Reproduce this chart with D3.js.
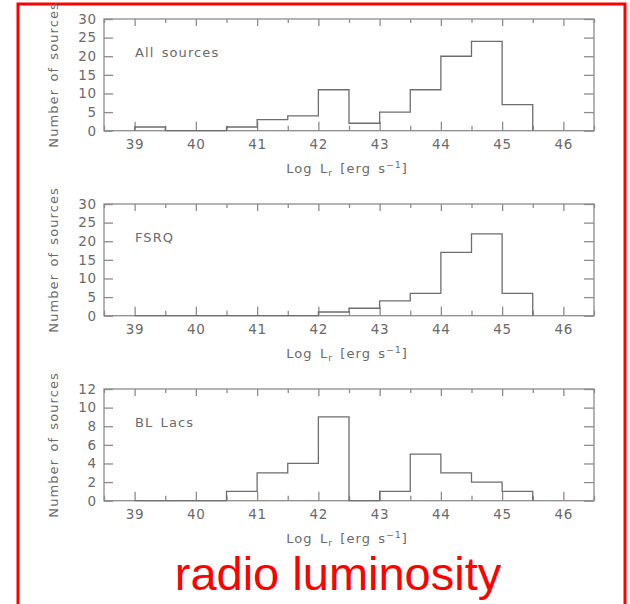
<!DOCTYPE html>
<meta charset="utf-8">
<style>
body { margin: 0; background: #fff; }
.frame { fill: none; stroke: #8c8c8c; stroke-width: 1.3px; }
.hist { fill: none; stroke: #6e6e6e; stroke-width: 1.3px; }
.tick line { stroke: #8c8c8c; stroke-width: 1.3px; }
.tick text { fill: #6a6a6a; font-family: "DejaVu Sans", sans-serif; font-size: 13.5px; letter-spacing: 0.8px; }
.lbl { fill: #6a6a6a; font-family: "DejaVu Sans", sans-serif; font-size: 13px; letter-spacing: 1.1px; word-spacing: 2px; }
</style>
<body>
<script src="https://d3js.org/d3.v7.min.js"></script>
<script>

// bin left edges (width 0.5) and counts per panel
var binStarts = [39, 39.5, 40, 40.5, 41, 41.5, 42, 42.5, 43, 43.5, 44, 44.5, 45];
var binWidth = 0.5;
var allSources = [1, 0, 0, 1, 3, 4, 11, 2, 5, 11, 20, 24, 7];
var fsrq       = [0, 0, 0, 0, 0, 0, 1, 2, 4, 6, 17, 22, 6];
var blLacs     = [0, 0, 0, 1, 3, 4, 9, 0, 1, 5, 3, 2, 1];

var panelNames = ["All sources", "FSRQ", "BL Lacs"];
var panelCounts = [allSources, fsrq, blLacs];
var yMax = [30, 30, 12];
var yStep = [5, 5, 2];
var xTicks = [39, 40, 41, 42, 43, 44, 45, 46];
var xMinorTicks = [38.5, 39.5, 40.5, 41.5, 42.5, 43.5, 44.5, 45.5, 46.5];

var W = 630, H = 604;
var plotLeft = 104, plotRight = 594;
var panelTop = [19, 204, 389];
var panelH = 111.7;

var svg = d3.select("body").append("svg")
    .attr("width", W)
    .attr("height", H);

// red outline box
svg.append("path")
    .attr("d", "M18," + (H + 5) + "V4H625V" + (H + 5))
    .attr("fill", "none")
    .attr("stroke", "#ff0000")
    .attr("stroke-width", 3);

var x = d3.scaleLinear().domain([38.5, 46.5]).range([plotLeft, plotRight]);

panelNames.forEach(function(name, i) {
  var top = panelTop[i];
  var y = d3.scaleLinear().domain([0, yMax[i]]).range([top + panelH, top]);
  var yTicks = d3.range(0, yMax[i] + 0.001, yStep[i]);
  var g = svg.append("g");

  // bottom axis: major + minor ticks inside the frame
  g.append("g")
      .attr("transform", "translate(0," + y(0) + ")")
      .call(d3.axisBottom(x).tickValues(xTicks).tickSizeInner(-9).tickSizeOuter(0).tickPadding(9))
      .call(function(a) { a.select(".domain").remove(); });
  g.append("g")
      .attr("transform", "translate(0," + y(0) + ")")
      .call(d3.axisBottom(x).tickValues(xMinorTicks).tickSizeInner(-5).tickSizeOuter(0).tickFormat(""))
      .call(function(a) { a.select(".domain").remove(); });

  // top axis
  g.append("g")
      .attr("transform", "translate(0," + top + ")")
      .call(d3.axisTop(x).tickValues(xTicks).tickSizeInner(-7).tickSizeOuter(0).tickFormat(""))
      .call(function(a) { a.select(".domain").remove(); });
  g.append("g")
      .attr("transform", "translate(0," + top + ")")
      .call(d3.axisTop(x).tickValues(xMinorTicks).tickSizeInner(-4).tickSizeOuter(0).tickFormat(""))
      .call(function(a) { a.select(".domain").remove(); });

  // left and right axes
  g.append("g")
      .attr("transform", "translate(" + plotLeft + ",0)")
      .call(d3.axisLeft(y).tickValues(yTicks).tickSizeInner(-9).tickSizeOuter(0).tickPadding(7))
      .call(function(a) { a.select(".domain").remove(); });
  g.append("g")
      .attr("transform", "translate(" + plotRight + ",0)")
      .call(d3.axisRight(y).tickValues(yTicks).tickSizeInner(-10).tickSizeOuter(0).tickFormat(""))
      .call(function(a) { a.select(".domain").remove(); });

  g.append("rect")
      .attr("class", "frame")
      .attr("x", plotLeft)
      .attr("y", top)
      .attr("width", plotRight - plotLeft)
      .attr("height", panelH);

  // histogram outline
  var counts = panelCounts[i];
  var pts = [[binStarts[0], 0]];
  binStarts.forEach(function(b, j) { pts.push([b, counts[j]]); });
  pts.push([binStarts[binStarts.length - 1] + binWidth, 0]);
  var line = d3.line()
      .x(function(d) { return x(d[0]); })
      .y(function(d) { return y(d[1]); })
      .curve(d3.curveStepAfter);
  g.append("path")
      .datum(pts)
      .attr("class", "hist")
      .attr("d", line);

  // panel name
  g.append("text")
      .attr("class", "lbl")
      .attr("x", 135)
      .attr("y", top + 38)
      .text(name);

  // x label
  var xl = g.append("text")
      .attr("class", "lbl")
      .attr("x", 347)
      .attr("y", top + panelH + 42)
      .attr("text-anchor", "middle");
  xl.append("tspan").text("Log L");
  xl.append("tspan").attr("font-size", "9px").attr("dy", 3).text("r");
  xl.append("tspan").attr("dy", -3).text(" [erg s");
  xl.append("tspan").attr("font-size", "9px").attr("dy", -5).text("\u22121");
  xl.append("tspan").attr("dy", 5).text("]");

  // y label
  g.append("text")
      .attr("class", "lbl")
      .attr("transform", "translate(58," + (top + panelH / 2) + ") rotate(-90)")
      .attr("text-anchor", "middle")
      .text("Number of sources");
});

svg.append("text")
    .attr("x", 338)
    .attr("y", 590)
    .attr("text-anchor", "middle")
    .attr("fill", "#ff0000")
    .attr("font-family", "'Liberation Sans', Arial, sans-serif")
    .attr("font-size", "47px")
    .text("radio luminosity");

</script>
